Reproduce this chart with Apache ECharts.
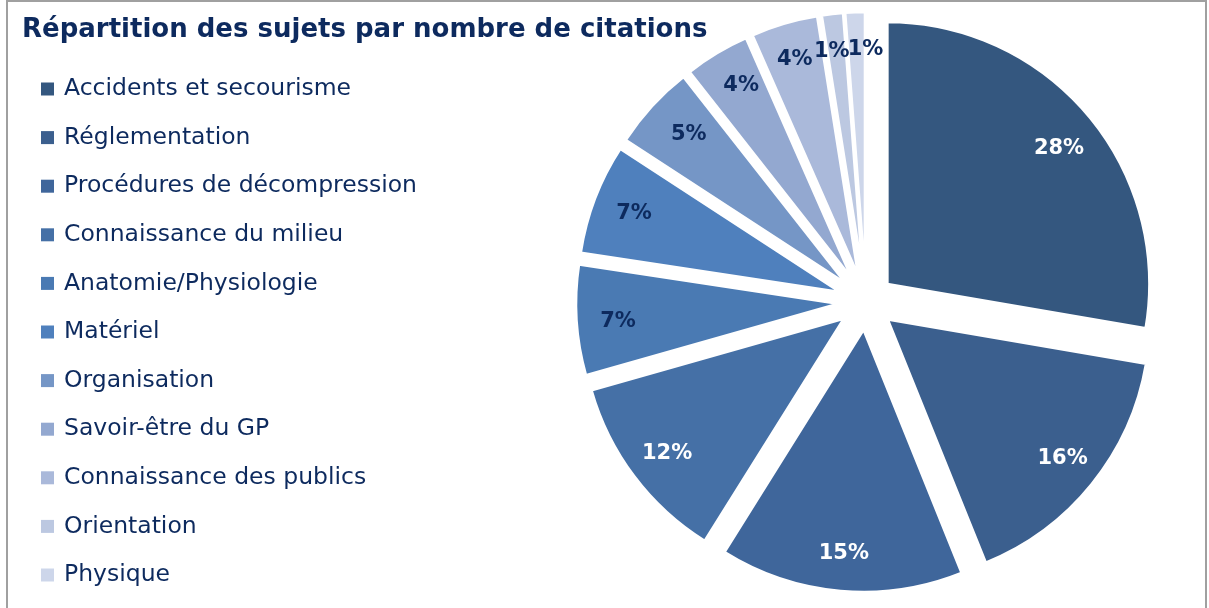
<!DOCTYPE html>
<html lang="fr">
<head>
    <meta charset="UTF-8">
    <title>Répartition des sujets par nombre de citations</title>
    <script src="https://cdnjs.cloudflare.com/ajax/libs/echarts/6.0.0/echarts.min.js"></script>
    <style>
        html, body { margin: 0; padding: 0; background: #fff; }
        #chart { width: 1209px; height: 608px; }
    </style>
</head>
<body>
    <div id="chart"></div>
    <script>
        // données (parts en %, étiquettes arrondies)
        const sujets = [
            'Accidents et secourisme', 'Réglementation', 'Procédures de décompression',
            'Connaissance du milieu', 'Anatomie/Physiologie', 'Matériel', 'Organisation',
            'Savoir-être du GP', 'Connaissance des publics', 'Orientation', 'Physique'
        ];
        const parts = [27.7, 16.2, 15.0, 11.7, 6.8, 6.8, 5.2, 4.0, 4.1, 1.3, 1.2];
        const couleurs = [
            '#34577f', '#3b5f8e', '#3f669b', '#4570a6', '#4a7ab3', '#4f80bd',
            '#7596c6', '#93a8d0', '#aab9da', '#bcc8e1', '#cdd6ea'
        ];
        const couleursTexte = [
            '#ffffff', '#ffffff', '#ffffff', '#ffffff', '#0d2a5e', '#0d2a5e',
            '#0d2a5e', '#0d2a5e', '#0d2a5e', '#0d2a5e', '#0d2a5e'
        ];
        // petits décalages des étiquettes (placement comme sur l'original)
        const decalages = [
            [0, 9], [0, -2], [0, 0], [3, 0], [4, 4], [4, 2],
            [9, 3], [5, 0], [0, 0], [-5, 0], [9, 0]
        ];

        const font = '"DejaVu Sans", sans-serif';
        const centre = [866, 302];
        const R = 262;

        let chart = echarts.init(document.getElementById('chart'));

        let secteurs = sujets.map((nom, i) => ({
            name: nom,
            value: parts[i],
            selected: true,
            itemStyle: { color: couleurs[i] }
        }));

        // anneau transparent qui porte les étiquettes vers l'extérieur
        let etiquettes = sujets.map((nom, i) => ({
            name: nom,
            value: parts[i],
            selected: true,
            itemStyle: { color: 'rgba(0,0,0,0)' },
            label: { color: couleursTexte[i] }
        }));

        let option = {
            animation: false,
            title: {
                text: 'Répartition des sujets par nombre de citations',
                left: 22,
                top: 17,
                padding: 0,
                textStyle: { fontFamily: font, fontSize: 26, fontWeight: 'bold', color: '#0d2a5e' }
            },
            legend: {
                orient: 'vertical',
                left: 41,
                top: 77,
                padding: 0,
                icon: 'rect',
                itemWidth: 13,
                itemHeight: 13,
                itemGap: 24.6,
                itemStyle: { borderWidth: 0 },
                data: sujets,
                selectedMode: false,
                textStyle: {
                    fontFamily: font, fontSize: 23.5, color: '#0d2a5e',
                    lineHeight: 24, padding: [0, 0, 0, 5]
                }
            },
            graphic: [{
                type: 'rect',
                shape: { x: 7, y: 1, width: 1199, height: 640 },
                style: { fill: 'none', stroke: '#a0a0a0', lineWidth: 2 },
                silent: true
            }],
            series: [{
                type: 'pie',
                center: centre,
                radius: R,
                startAngle: 90,
                clockwise: true,
                selectedMode: 'multiple',
                selectedOffset: 28,
                avoidLabelOverlap: false,
                itemStyle: { borderColor: '#ffffff', borderWidth: 2.5 },
                label: { show: false },
                labelLine: { show: false },
                emphasis: { disabled: true },
                data: secteurs
            }, {
                type: 'pie',
                center: centre,
                radius: [181, R],
                startAngle: 90,
                clockwise: true,
                selectedMode: 'multiple',
                selectedOffset: 28,
                avoidLabelOverlap: false,
                silent: true,
                label: {
                    show: true,
                    position: 'inside',
                    formatter: p => Math.round(p.value) + '%',
                    fontFamily: font,
                    fontSize: 21,
                    fontWeight: 'bold'
                },
                labelLayout: p => ({
                    dx: decalages[p.dataIndex][0],
                    dy: decalages[p.dataIndex][1],
                    hideOverlap: false
                }),
                labelLine: { show: false },
                emphasis: { disabled: true },
                data: etiquettes
            }]
        };
        chart.setOption(option);
    </script>
</body>
</html>
